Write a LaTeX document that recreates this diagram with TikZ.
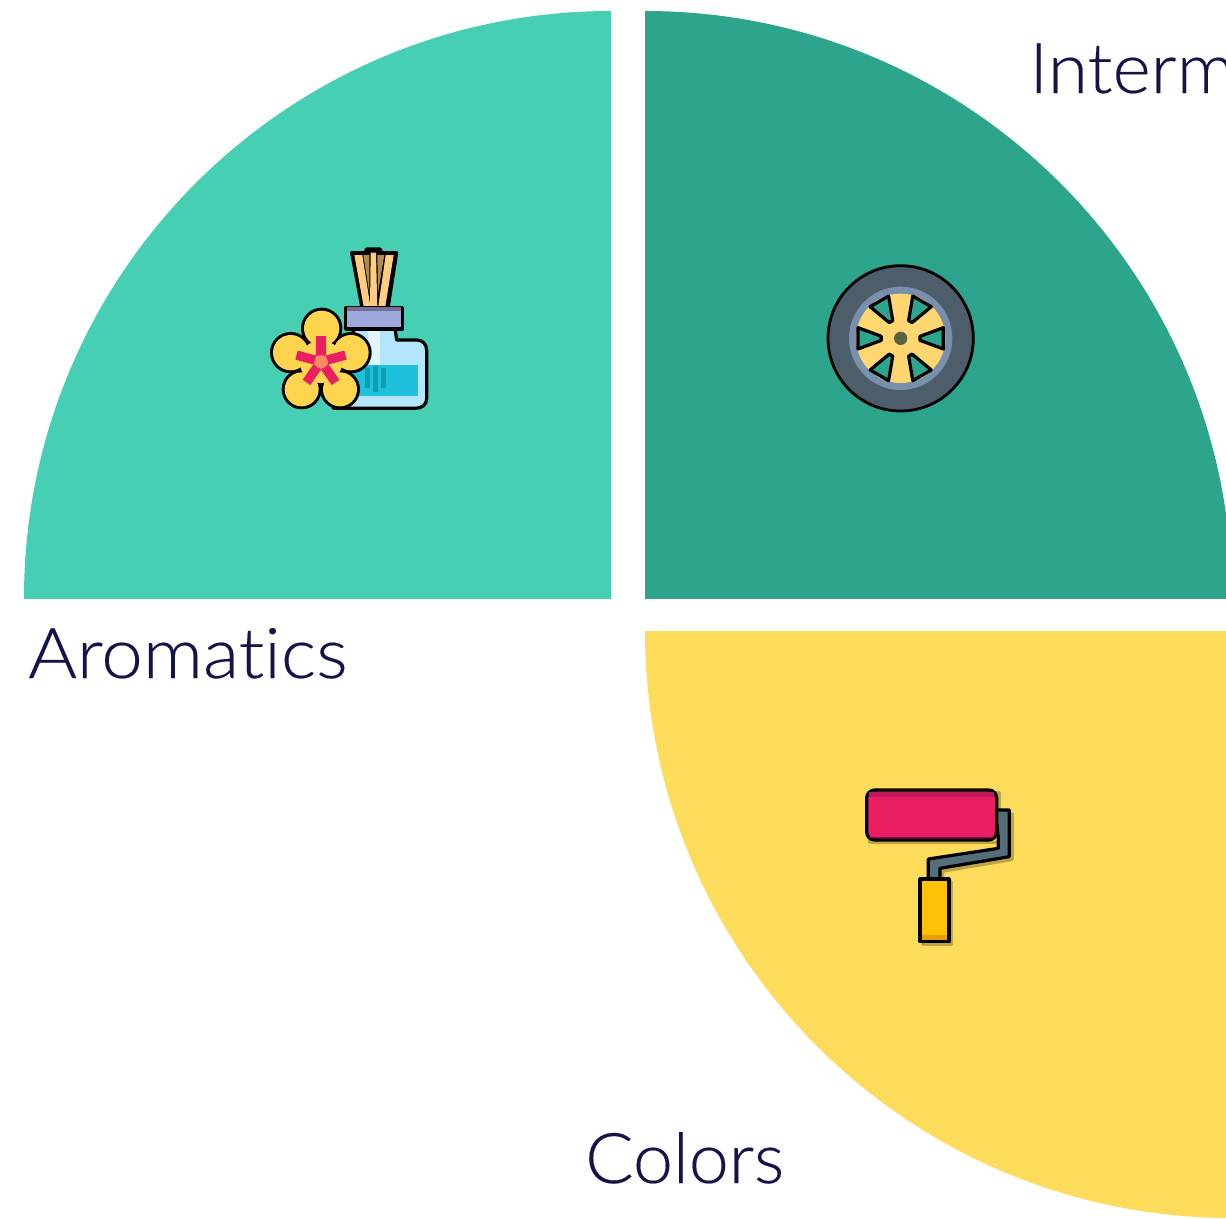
\documentclass[tikz,border=0pt]{standalone}
\usepackage{fontspec}
\setmainfont{Lato Light}[FakeStretch=1.045,FakeBold=0.25,Ligatures=NoCommon]
\definecolor{txt}{HTML}{14144A}
\definecolor{teala}{HTML}{46CFB2}
\definecolor{tealb}{HTML}{2DA58C}
\definecolor{yel}{HTML}{FDDC5C}
\definecolor{stick}{HTML}{FFCC80}
\definecolor{stickd}{HTML}{B08A50}
\definecolor{glass}{HTML}{B3E5FC}
\definecolor{shine}{HTML}{E1F5FE}
\definecolor{water}{HTML}{1FC0DC}
\definecolor{waterd}{HTML}{0E9DB0}
\definecolor{capc}{HTML}{9FA8DA}
\definecolor{capd}{HTML}{6E6F96}
\definecolor{petal}{HTML}{FFD54F}
\definecolor{pink}{HTML}{E91E63}
\definecolor{pinkd}{HTML}{C2185B}
\definecolor{pinkk}{HTML}{880E4F}
\definecolor{coreo}{HTML}{FF8A65}
\definecolor{tire}{HTML}{4E5D6A}
\definecolor{rimc}{HTML}{7890AC}
\definecolor{spoke}{HTML}{FFD670}
\definecolor{hub}{HTML}{5A6340}
\definecolor{shaft}{HTML}{546E7A}
\definecolor{handle}{HTML}{FFC107}
\definecolor{handled}{HTML}{E5A000}
\tikzset{
  lab/.style={text=txt,anchor=base west,inner sep=0pt,font=\fontsize{70}{70}\selectfont},
  icon/.style={scale=1/3,line join=round},
  ol/.style={draw=black,line width=3.2pt,line join=round},
  halo/.style={draw=black,draw opacity=.25,line width=3.6pt,line join=round},
}
\begin{document}
\begin{tikzpicture}[x=1pt,y=-1pt]
\useasboundingbox (0,0) rectangle (1226,1218);
\clip (0,0) rectangle (1226,1218);
\fill[white] (0,0) rectangle (1226,1218);
% sectors
\begin{scope}\clip (24,11) rectangle (611,598); \fill[teala] (611,598) circle[radius=587]; \end{scope}
\begin{scope}\clip (645,11) rectangle (1232,598); \fill[tealb] (645,598) circle[radius=587]; \end{scope}
\begin{scope}\clip (645,631) rectangle (1232,1218); \fill[yel] (1232,631) circle[radius=587]; \end{scope}
% labels
\node[lab,xscale=1.02] (aro) at (28,678) {Aromatics};
\node[lab] (int) at (1029,93) {Interm};
\node[lab,xscale=.98] (col) at (585,1183) {Colors};
% diffuser + flower
\begin{scope}[shift={(250,230)},icon]
  % sticks
  \path[ol,fill=black] (305,68) -- (345,68) -- (350,57) -- (390,57) -- (395,68) -- (440,68) -- (415,228) -- (335,228) -- cycle;
  \fill[stick] (313,75) -- (337,75) -- (362,235) -- (342,235) -- cycle;
  \fill[stick] (362,68) -- (378,68) -- (382,235) -- (360,235) -- cycle;
  \fill[stick] (407,75) -- (431,75) -- (405,235) -- (384,235) -- cycle;
  \fill[stickd] (340,75) -- (358,75) -- (358,190) -- cycle;
  \fill[stickd] (382,75) -- (403,75) -- (384,190) -- cycle;
  % body
  \path[ol,fill=glass] (315,296) -- (435,296) -- (440,330) -- (500,330)
     .. controls (520,330) and (530,345) .. (530,362) -- (530,505)
     .. controls (530,525) and (515,535) .. (495,535) -- (250,535) -- (250,420) -- cycle;
  \fill[shine] (355,296) rectangle (390,405);
  \fill[water] (300,405) rectangle (505,497);
  \fill[waterd] (345,415) rectangle (360,475);
  \fill[waterd] (368,408) rectangle (383,485);
  \fill[waterd] (392,415) rectangle (408,475);
  % cap
  \path[ol,fill=capc] (287,232) rectangle (458,297);
  \fill[capd] (292,232) rectangle (453,243);
  % flower
  \foreach \px/\py/\pr in {215/295/62,122/368/62,303/368/62,155/478/60,270/478/60}{
    \fill[black] (\px,\py) circle[radius=\pr];
  }
  \foreach \px/\py/\pr in {215/295/53,122/368/53,303/368/53,155/478/51,270/478/51}{
    \fill[petal] (\px,\py) circle[radius=\pr];
  }
  \fill[petal] (213,395) circle[radius=64];
  \foreach \ang in {90,165,235,305,15}{
    \begin{scope}[shift={(213,395)},rotate=\ang]
      \fill[pink] (18,-14) rectangle (76,14);
    \end{scope}
  }
  \fill[coreo] (213,395) circle[radius=20];
\end{scope}
% wheel
\begin{scope}[shift={(810,250)},icon]
  \path[draw=black,line width=2.8pt,fill=tire] (272,265) circle[radius=218];
  \fill[rimc] (272,265) circle[radius=155];
  \fill[spoke] (272,265) circle[radius=134];
  \foreach \ang in {0,60,120,180,240,300}{
    \begin{scope}[shift={(272,265)},rotate=\ang]
      \path[draw=black,line width=3.2pt,fill=tealb] (58,-6) -- (128,-32) -- (128,32) -- (58,6) -- cycle;
    \end{scope}
  }
  \fill[hub] (272,265) circle[radius=20];
\end{scope}
% roller
\begin{scope}[shift={(850,775)},icon]
  \path[halo,shift={(8,8)}] (50,45) rectangle (440,195);
  \path[halo,shift={(8,8)}] (478,105) -- (478,245) -- (270,280) -- (270,315);
  \path[halo,shift={(8,8)}] (210,312) rectangle (297,500);
  \path[ol,fill=shaft] (435,105) -- (478,105) -- (478,245) -- (270,280) -- (270,315) -- (235,315) -- (235,252) -- (445,220) -- (445,190) -- cycle;
  \path[ol,fill=pink,rounded corners=8pt] (50,45) rectangle (440,195);
  \fill[pinkd] (58,52) rectangle (433,65);
  \fill[pinkk] (58,186) rectangle (433,190);
  \path[ol,fill=handle] (210,312) rectangle (297,500);
  \fill[handled] (216,480) rectangle (292,495);
\end{scope}
\end{tikzpicture}
\end{document}
